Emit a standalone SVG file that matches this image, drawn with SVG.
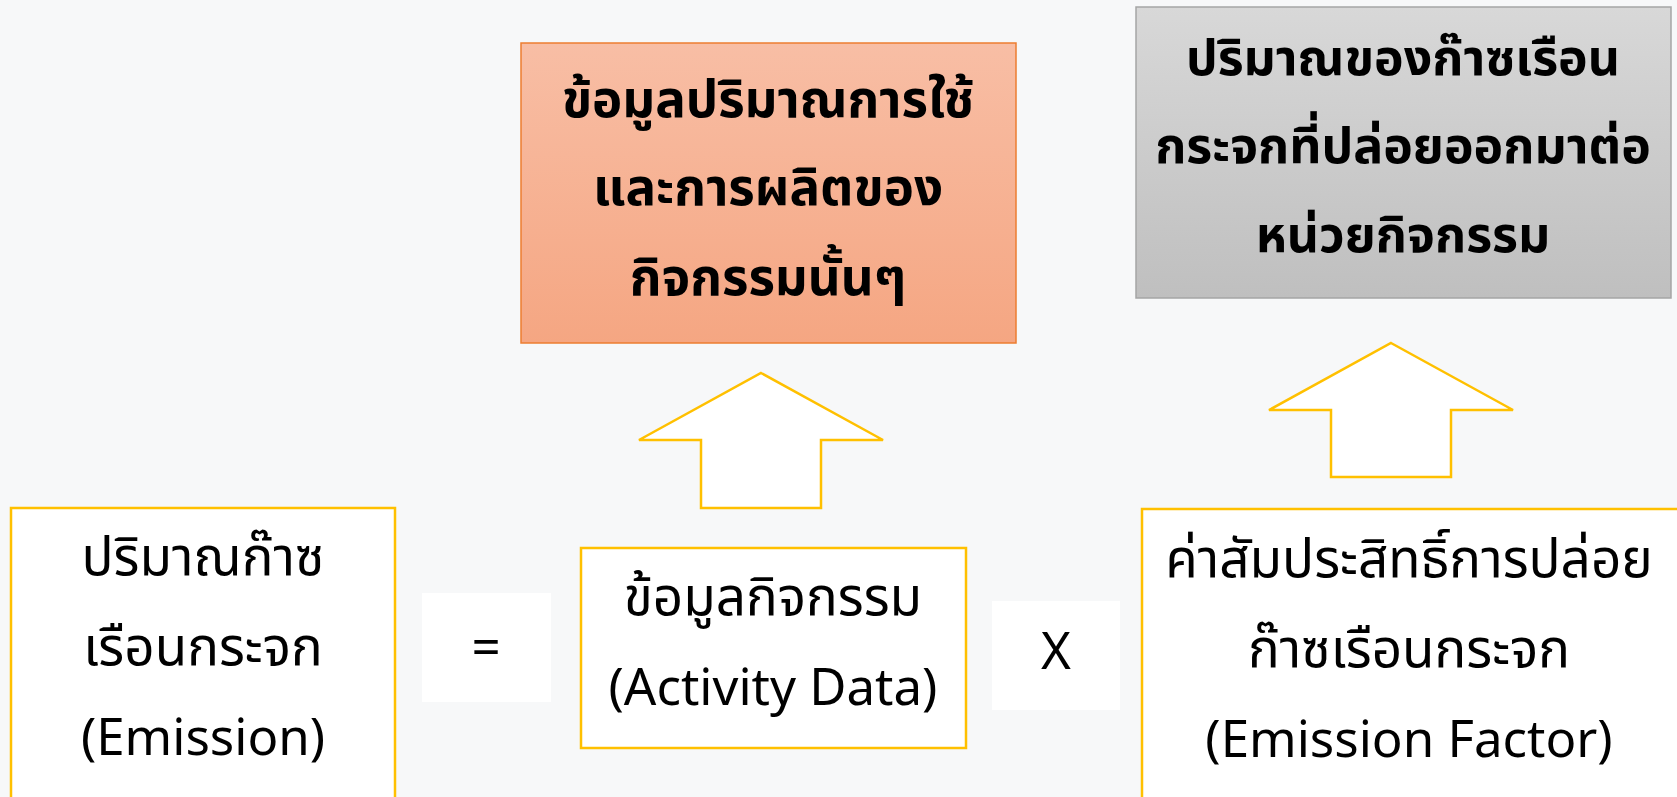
<svg xmlns="http://www.w3.org/2000/svg" width="1677" height="797" viewBox="0 0 1677 797">
  <defs>
    <linearGradient id="gOrange" x1="0" y1="0" x2="0" y2="1">
      <stop offset="0" stop-color="#F8BEA5"/>
      <stop offset="1" stop-color="#F5A682"/>
    </linearGradient>
    <linearGradient id="gGray" x1="0" y1="0" x2="0" y2="1">
      <stop offset="0" stop-color="#D8D8D8"/>
      <stop offset="1" stop-color="#BFBFBF"/>
    </linearGradient>
    <style>
      .t { font-family: "Noto Sans Thai", "Leelawadee UI", "Tahoma", "Noto Sans", "DejaVu Sans", sans-serif; font-size: 53px; fill: #000; text-anchor: middle; }
      .en { font-size: 51px; }
      .b { font-weight: bold; font-size: 51px; }
      .b2 { font-size: 50px; }
      .yb { fill: #FFFFFF; stroke: #FFC000; stroke-width: 2.5; }
      .op { fill: #FFFFFF; stroke: none; }
      .arrow { fill: #FFFFFF; stroke: #FFC000; stroke-width: 2.5; stroke-linejoin: miter; }
    </style>
  </defs>
  <rect x="0" y="0" width="1677" height="797" fill="#F7F8F9"/>

  <g id="connectors">
    <path class="arrow" d="M761,373 L883,440 L821,440 L821,508 L701,508 L701,440 L639,440 Z"/>
    <path class="arrow" d="M1391,343 L1513,410 L1451,410 L1451,477 L1331,477 L1331,410 L1269,410 Z"/>
  </g>

  <g id="node-usage">
    <rect x="521" y="43" width="495" height="300" fill="url(#gOrange)" stroke="#ED7D31" stroke-width="1.5"/>
    <text class="t b" x="768" y="117">ข้อมูลปริมาณการใช้</text>
    <text class="t b" x="768" y="205">และการผลิตของ</text>
    <text class="t b" x="768" y="295">กิจกรรมนั้นๆ</text>
  </g>

  <g id="node-rate">
    <rect x="1136" y="7" width="535" height="291" fill="url(#gGray)" stroke="#A5A5A5" stroke-width="1.5"/>
    <text class="t b b2" x="1403" y="75">ปริมาณของก๊าซเรือน</text>
    <text class="t b b2" x="1403" y="163">กระจกที่ปล่อยออกมาต่อ</text>
    <text class="t b b2" x="1403" y="252">หน่วยกิจกรรม</text>
  </g>

  <g id="node-emission">
    <rect class="yb" x="11" y="508" width="384" height="300"/>
    <text class="t" x="203" y="575">ปริมาณก๊าซ</text>
    <text class="t" x="203" y="665">เรือนกระจก</text>
    <text class="t en" x="203" y="755">(Emission)</text>
  </g>

  <g id="node-equals">
    <rect class="op" x="422" y="593" width="129" height="109"/>
    <text class="t en" x="486" y="665">=</text>
  </g>

  <g id="node-activity">
    <rect class="yb" x="581" y="548" width="385" height="200" stroke-width="3"/>
    <text class="t" x="773" y="615">ข้อมูลกิจกรรม</text>
    <text class="t en" x="773" y="705">(Activity Data)</text>
  </g>

  <g id="node-times">
    <rect class="op" x="992" y="601" width="128" height="109"/>
    <text class="t en" x="1056" y="669">X</text>
  </g>

  <g id="node-factor">
    <rect class="yb" x="1142" y="509" width="540" height="300"/>
    <text class="t" x="1409" y="577">ค่าสัมประสิทธิ์การปล่อย</text>
    <text class="t" x="1409" y="667">ก๊าซเรือนกระจก</text>
    <text class="t en" x="1409" y="757">(Emission Factor)</text>
  </g>
</svg>
